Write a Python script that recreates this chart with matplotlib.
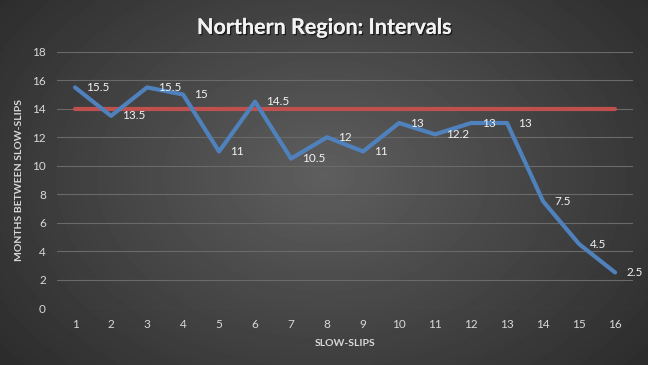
import numpy as np
import matplotlib.pyplot as plt
import matplotlib.patheffects as pe

slips = list(range(1, 17))
months = [15.5, 13.5, 15.5, 15, 11, 14.5, 10.5, 12, 11, 13, 12.2, 13, 13, 7.5, 4.5, 2.5]
labels = ['15.5', '13.5', '15.5', '15', '11', '14.5', '10.5', '12', '11', '13', '12.2', '13', '13', '7.5', '4.5', '2.5']
average = 14

plt.rcParams['font.family'] = ['Lato', 'DejaVu Sans']

fig = plt.figure(figsize=(6.48, 3.65), dpi=100)

# radial gradient background
bg = fig.add_axes([0, 0, 1, 1], zorder=-10)
yy, xx = np.mgrid[0:365, 0:648]
r = np.sqrt(((xx - 324) / 420.0) ** 2 + ((yy - 175) / 300.0) ** 2)
shade = np.clip(0.37 - 0.2 * r, 0.14, 0.37)
bg.imshow(shade, cmap='gray', vmin=0, vmax=1, aspect='auto', extent=[0, 1, 0, 1])
bg.axis('off')

ax = fig.add_axes([0.088, 0.156, 0.889, 0.702])
ax.patch.set_alpha(0)

ax.plot(slips, [average] * len(slips), color='#c0504d', lw=3, solid_capstyle='round', zorder=2)
ax.plot(slips, months, color='#4f81bd', lw=3, solid_joinstyle='round', solid_capstyle='round', zorder=3)

for x, y, t in zip(slips, months, labels):
    ax.annotate(t, (x, y), xytext=(8, 0), textcoords='offset points', va='center', ha='left',
                color='#f2f2f2', fontsize=8.5, zorder=4)

ax.set_xlim(0.5, 16.5)
ax.set_ylim(0, 18)
ax.set_yticks(range(0, 19, 2))
ax.set_xticks(slips)
ax.grid(axis='y', color='#6a6a6a', lw=0.8)
ax.set_axisbelow(True)
for s in ax.spines.values():
    s.set_visible(False)
ax.tick_params(length=0, colors='#d9d9d9', labelsize=8.5, pad=8)

ax.set_xlabel('SLOW-SLIPS', color='#d9d9d9', fontsize=7.5, fontweight='bold', labelpad=6)
ax.set_ylabel('MONTHS BETWEEN SLOW-SLIPS', color='#d9d9d9', fontsize=7.5, fontweight='bold', labelpad=6)

fig.text(0.5, 0.925, 'Northern Region: Intervals', ha='center', va='center', color='#f2f2f2',
         fontsize=15.5, fontweight='bold',
         path_effects=[pe.withSimplePatchShadow(offset=(1, -1), shadow_rgbFace='black', alpha=0.6), pe.Normal()])

fig.savefig('out.png', dpi=100)
